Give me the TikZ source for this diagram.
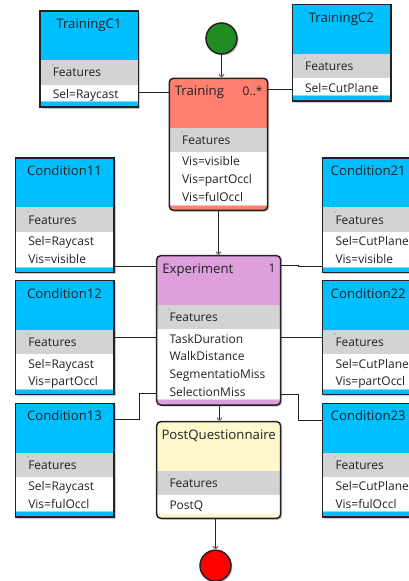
\documentclass[tikz,border=0pt]{standalone}
\usepackage{fontspec}
\setmainfont{Open Sans}
\usetikzlibrary{arrows.meta}
\definecolor{cblue}{HTML}{00BFFF}
\definecolor{csalmon}{HTML}{FF8070}
\definecolor{cplum}{HTML}{DDA0DD}
\definecolor{clemon}{HTML}{FFF8CD}
\definecolor{cgrey}{HTML}{D3D3D3}
\definecolor{cgreen}{HTML}{228B22}
\definecolor{cred}{HTML}{FF0000}
\definecolor{cink}{HTML}{222222}
\tikzset{
  outline/.style={draw=cink,line width=1.5pt,inner sep=0pt,outer sep=0pt,anchor=north west},
  boxtext/.style={text=cink,inner sep=0pt,anchor=base west,font=\fontsize{12}{14}\selectfont},
  titletext/.style={text=cink,inner sep=0pt,anchor=base,font=\fontsize{13.2}{15}\selectfont},
  link/.style={draw=cink,line width=1.3pt},
  flow/.style={link,-{Straight Barb[length=3pt,width=5pt,color=gray]}},
  dot/.style={circle,draw=cink,line width=1.5pt,minimum size=31pt,inner sep=0pt,outer sep=0pt},
}
% name, x, y, w, h, fill, corner radius, title-node content, attribute list
\newcommand{\umlbox}[9]{%
  \begin{scope}[shift={(#2,#3)}]
    \fill[black,opacity=.2,rounded corners=#7] (1.5,1.5) rectangle (#4+1.5,#5+1.5);
    \begin{scope}
      \clip[rounded corners=#7] (0,0) rectangle (#4,#5);
      \fill[#6] (0,0) rectangle (#4,#5);
      \fill[cgrey] (0,49.2) rectangle (#4,73.7);
      \fill[white] (0,73.7) rectangle (#4,#5-5);
      \fill[#6!50!white] (0,#5-5.8) rectangle (#4,#5-5);
    \end{scope}
    \fill[black!25] (11.5,52.5) rectangle (13.5,54.5);
    \node[outline,rounded corners=#7,minimum width=#4 pt,minimum height=#5 pt] (#1) at (0,0) {};
    #8
    \node[boxtext] (#1-features) at (12.6,65.9) {Features};
    \foreach \t [count=\i] in {#9} {
      \node[boxtext] (#1-attr\i) at (12.6,87.6+17.6*\i-17.6) {\t};
    }
  \end{scope}
}
\newcommand{\centertitle}[3]{\node[titletext] (#1-title) at (#2/2,17.6) {#3};}
\begin{document}
\begin{tikzpicture}[x=1pt,y=-1pt]
\useasboundingbox (0,0) rectangle (409,581);
\clip (0,0) rectangle (409,581);
\fill[white] (0,0) rectangle (409,581);

% class boxes
\umlbox{c1}{40}{11}{98.5}{96}{cblue}{0pt}{\centertitle{c1}{98}{TrainingC1}}{Sel=Raycast}
\umlbox{c2}{292.3}{4.7}{98.5}{96.3}{cblue}{0pt}{\centertitle{c2}{98}{TrainingC2}}{Sel=CutPlane}
\umlbox{tr}{169.3}{78.3}{98.4}{132}{csalmon}{4pt}{%
  \node[titletext,anchor=base west] (tr-title) at (5.3,16.7) {Training};
  \node[titletext,anchor=base east,font=\fontsize{12}{14}\selectfont] (tr-mult) at (93.5,16.7) {0..*};
}{Vis=visible,Vis=partOccl,Vis=fulOccl}
\umlbox{a1}{15.5}{158.2}{98.5}{114.5}{cblue}{0pt}{\centertitle{a1}{98}{Condition11}}{Sel=Raycast,Vis=visible}
\umlbox{a2}{15.5}{280.7}{98.5}{114}{cblue}{0pt}{\centertitle{a2}{98}{Condition12}}{Sel=Raycast,Vis=partOccl}
\umlbox{a3}{15.5}{403.3}{98.5}{113.7}{cblue}{0pt}{\centertitle{a3}{98}{Condition13}}{Sel=Raycast,Vis=fulOccl}
\umlbox{b1}{322.7}{158.2}{98.5}{114.5}{cblue}{0pt}{\centertitle{b1}{91}{Condition21}}{Sel=CutPlane,Vis=visible}
\umlbox{b2}{322.7}{280.7}{98.5}{114}{cblue}{0pt}{\centertitle{b2}{91}{Condition22}}{Sel=CutPlane,Vis=partOccl}
\umlbox{b3}{322.7}{403.3}{98.5}{113.7}{cblue}{0pt}{\centertitle{b3}{91}{Condition23}}{Sel=CutPlane,Vis=fulOccl}
\umlbox{ex}{156.7}{255.7}{124}{149.3}{cplum}{4pt}{%
  \node[titletext,anchor=base west] (ex-title) at (5.5,17.6) {Experiment};
  \node[titletext,anchor=base east,font=\fontsize{12}{14}\selectfont] (ex-mult) at (119,16.5) {1};
}{TaskDuration,WalkDistance,SegmentatioMiss,SelectionMiss}
\umlbox{pq}{156.7}{421.7}{124}{96.6}{clemon}{4pt}{\centertitle{pq}{124}{PostQuestionnaire}}{PostQ}

% start and end dots
\fill[black,opacity=.2] (223.2,40) circle (15.5);
\fill[black,opacity=.2] (217,567.2) circle (15.5);
\node[dot,fill=cgreen] (start) at (221.5,38.5) {};
\node[dot,fill=cred] (stop) at (215.5,565.7) {};

% connectors
\draw[flow] (start.south) -- (start.south |- tr.north);
\draw[flow] (218.5,0 |- tr.south) -- (218.5,0 |- ex.north);
\draw[flow] (219.5,0 |- ex.south) -- (219.5,0 |- pq.north);
\draw[flow] (stop.north |- pq.south) -- (stop.north);
\draw[link] (c1.east |- 0,92.5) -- (tr.west |- 0,92.5);
\draw[link] (tr.east |- 0,89.5) -- (c2.west |- 0,89.5);
\draw[link] (a1.east |- 0,266.5) -- (ex.west |- 0,266.5);
\draw[link] (ex.east |- 0,265.5) -- (298.5,265.5) -- (298.5,266.5) -- (b1.west |- 0,266.5);
\draw[link] (a2.east |- 0,337.5) -- (ex.west |- 0,337.5);
\draw[link] (ex.east |- 0,337.5) -- (b2.west |- 0,337.5);
\draw[link] (a3.east |- 0,419.5) -- (139.5,419.5) -- (139.5,393.5) -- (ex.west |- 0,393.5);
\draw[link] (ex.east |- 0,394.5) -- (298.5,394.5) -- (298.5,420.5) -- (b3.west |- 0,420.5);
\end{tikzpicture}
\end{document}
